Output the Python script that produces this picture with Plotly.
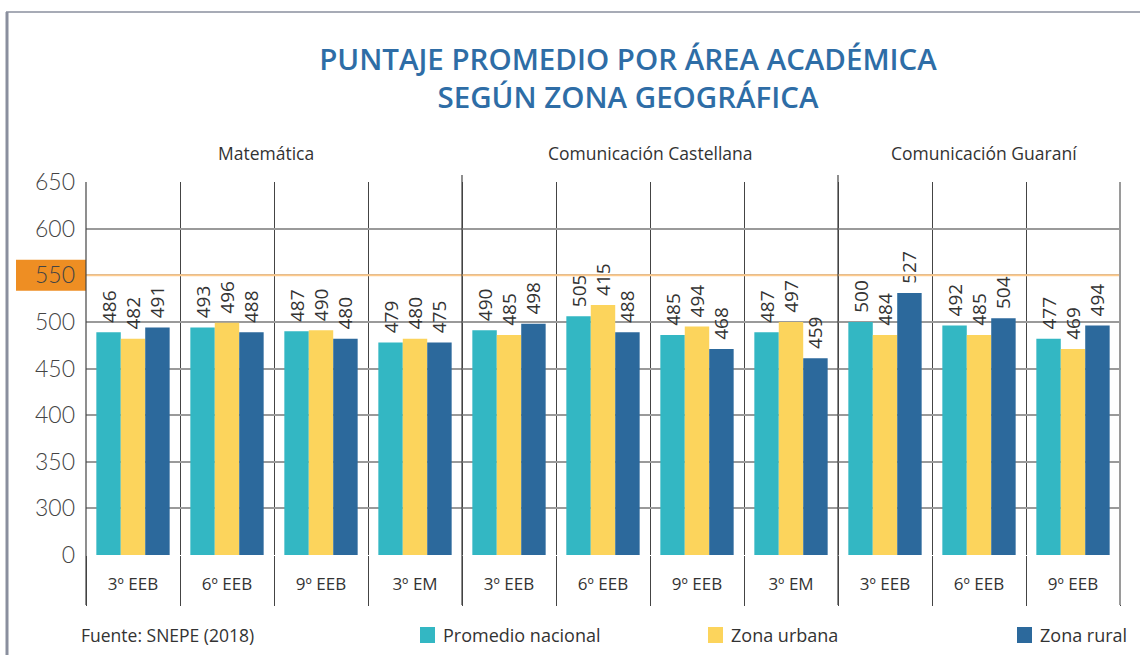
import plotly.graph_objects as go

# ---------------- data ----------------
areas = ["Matemática", "Comunicación Castellana", "Comunicación Guaraní"]
area_of = ["Matemática"] * 4 + ["Comunicación Castellana"] * 4 + ["Comunicación Guaraní"] * 3
grades = ["3º EEB", "6º EEB", "9º EEB", "3º EM",
          "3º EEB", "6º EEB", "9º EEB", "3º EM",
          "3º EEB", "6º EEB", "9º EEB"]

series_names = ["Promedio nacional", "Zona urbana", "Zona rural"]
# bar heights as drawn in the picture
nacional = [489, 494, 490, 478, 491, 506, 486, 489, 500, 496, 482]
urbana = [482, 499, 491, 482, 486, 518, 495, 500, 486, 486, 471]
rural = [494, 489, 482, 478, 498, 489, 471, 461, 531, 504, 496]
# printed labels
nacional_lbl = [486, 493, 487, 479, 490, 505, 485, 487, 500, 492, 477]
urbana_lbl = [482, 496, 490, 480, 485, 415, 494, 497, 484, 485, 469]
rural_lbl = [491, 488, 480, 475, 498, 488, 468, 459, 527, 504, 494]

y_ticks = [250, 300, 350, 400, 450, 500, 550, 600, 650]
y_ticktext = ["0", "300", "350", "400", "450", "500", "550", "600", "650"]
reference_line = 550

colors = ["#33B7C3", "#FCD45C", "#2C699C"]

# --------------- layout geometry (pixels) ---------------
W, H = 1140, 655
L, R, T, B = 86, 1120, 182, 555


def px(x):
    return (x - L) / (R - L)


def py(y):
    return (B - y) / (B - T)


cats = [f"{a}|{i}" for i, a in enumerate(area_of)]
# invisible spacer so the value labels float a little above the bars
spacer = "<span style='color:rgba(0,0,0,0)'>-</span>"

fig = go.Figure()
for name, vals, lbls, col in zip(series_names, [nacional, urbana, rural],
                                 [nacional_lbl, urbana_lbl, rural_lbl], colors):
    fig.add_trace(go.Bar(
        x=cats, y=vals, name=name, marker=dict(color=col, line=dict(width=0)),
        text=[f"{spacer}{v}" for v in lbls], textposition="outside", textangle=-90,
        textfont=dict(family="Open Sans", size=19, color="#333333"),
        constraintext="none", showlegend=False,
        hovertemplate="%{y}<extra>" + name + "</extra>",
    ))

fig.update_layout(
    width=W, height=H,
    margin=dict(l=L, r=W - R, t=T, b=H - B, autoexpand=False),
    paper_bgcolor="white", plot_bgcolor="white",
    barmode="group", bargap=0.22, bargroupgap=0,
    font=dict(family="Open Sans", color="#333333"),
    title=dict(
        text="PUNTAJE PROMEDIO POR ÁREA ACADÉMICA<br>SEGÚN ZONA GEOGRÁFICA",
        x=px(628), xanchor="center", xref="paper",
        y=1 - 70 / H, yanchor="middle",
        font=dict(family="Open Sans", size=29.5, color="#2E6DA6", weight=600),
    ),
)

fig.update_xaxes(
    type="category", categoryorder="array", categoryarray=cats,
    tickmode="array", tickvals=cats, ticktext=grades,
    tickson="boundaries", ticks="outside", ticklen=50, tickwidth=1, tickcolor="#444444",
    ticklabelstandoff=17, automargin=False,
    tickfont=dict(family="Open Sans", size=17, color="#333333"),
    showgrid=True, gridcolor="#444444", gridwidth=1,
    showline=False, zeroline=False,
    range=[-0.5, len(cats) - 0.5],
)
fig.update_yaxes(
    range=[250, 650], tickmode="array", tickvals=y_ticks, ticktext=y_ticktext,
    showgrid=True, gridcolor="#9A9A9A", gridwidth=2,
    zeroline=False, showline=False, ticks="", automargin=False,
    ticklabelstandoff=10,
    tickfont=dict(family="Lato", size=23, color="#444444", weight=300),
)

shapes = []
# orange box behind the 550 tick label
shapes.append(dict(type="rect", xref="paper", yref="y", x0=px(16), x1=0,
                   y0=reference_line - 16.5, y1=reference_line + 16.5,
                   fillcolor="#EE8E23", line=dict(width=0), layer="below"))
# reference line 550
shapes.append(dict(type="line", xref="paper", yref="y", x0=0, x1=1,
                   y0=reference_line, y1=reference_line,
                   line=dict(color="#FDC98B", width=2), layer="above"))
# area dividers extending above the plot
n = len(cats)
for k in range(1, n):
    if area_of[k] != area_of[k - 1]:
        shapes.append(dict(type="line", xref="x", yref="paper", x0=k - 0.5, x1=k - 0.5,
                           y0=py(605), y1=py(175), line=dict(color="#444444", width=1.2)))
# left and right borders of the table
shapes.append(dict(type="line", xref="paper", yref="paper", x0=0, x1=0, y0=py(605), y1=1,
                   line=dict(color="#444444", width=1.2)))
shapes.append(dict(type="line", xref="paper", yref="paper", x0=1, x1=1, y0=py(605), y1=1,
                   line=dict(color="#9A9A9A", width=2)))
# frame around the figure
shapes.append(dict(type="line", xref="paper", yref="paper", x0=px(7), x1=px(7),
                   y0=py(H + 5), y1=py(12), line=dict(color="#8A8F9E", width=3)))
shapes.append(dict(type="line", xref="paper", yref="paper", x0=px(6), x1=px(W + 5),
                   y0=py(12), y1=py(12), line=dict(color="#8A8F9E", width=1.5)))
# legend squares
legend_x = [420, 708, 1017]
for xx, col in zip(legend_x, colors):
    shapes.append(dict(type="rect", xref="paper", yref="paper", x0=px(xx), x1=px(xx + 15),
                       y0=py(643), y1=py(627), fillcolor=col, line=dict(width=0)))
fig.update_layout(shapes=shapes)

annotations = []
# area headers
header_shift = {"Matemática": -0.08, "Comunicación Castellana": 0.0, "Comunicación Guaraní": 0.05}
for a in areas:
    idx = [i for i, v in enumerate(area_of) if v == a]
    annotations.append(dict(text=a, xref="x", yref="paper",
                            x=(idx[0] + idx[-1]) / 2 + header_shift[a], y=py(153),
                            showarrow=False, xanchor="center", yanchor="middle",
                            font=dict(family="Open Sans", size=17.5, color="#333333")))
# legend texts
for xx, name in zip(legend_x, series_names):
    annotations.append(dict(text=name, xref="paper", yref="paper", x=px(xx + 21), y=py(635),
                            showarrow=False, xanchor="left", yanchor="middle",
                            font=dict(family="Open Sans", size=18, color="#333333")))
annotations.append(dict(text="Fuente: SNEPE (2018)", xref="paper", yref="paper", x=px(79), y=py(635),
                        showarrow=False, xanchor="left", yanchor="middle",
                        font=dict(family="Open Sans", size=17.5, color="#333333")))
fig.update_layout(annotations=annotations)

fig.write_html("out.html", config={"displayModeBar": False},
               post_script="document.body.style.margin='0';")
